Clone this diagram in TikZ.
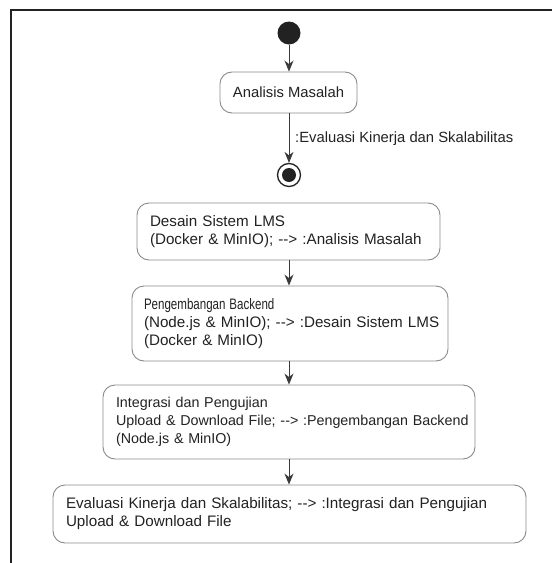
\documentclass[tikz,border=0pt]{standalone}
\usepackage{fontspec}
\setmainfont{Liberation Sans}
\usetikzlibrary{arrows.meta}
\definecolor{boxline}{HTML}{8A8A8A}
\definecolor{ink}{HTML}{222222}
\definecolor{arrowc}{HTML}{3A3A3A}
\newcommand{\arr}{-{}-{}>}
\tikzset{
  actbox/.style={draw=boxline, line width=0.9pt, rounded corners=12pt, fill=white,
    inner xsep=13pt, inner ysep=0pt, font=\fontsize{15.2}{18}\selectfont, text=ink, align=left},
  flow/.style={draw=arrowc, line width=1pt, -{Stealth[length=11pt,width=9pt,inset=3.5pt]}},
  frameline/.style={draw=ink, line width=1.1pt},
  lbl/.style={font=\fontsize{14.8}{18}\selectfont, text=ink, inner sep=0pt}
}
\begin{document}
\begin{tikzpicture}[x=1pt,y=-1pt]
\useasboundingbox (0,0) rectangle (552,563);
\coordinate (fl) at (11,563);
\coordinate (fc) at (11,10);
\coordinate (fr) at (552,10);
\draw[frameline] (fl) -- (fc) -- (fr);

\node[circle, fill=ink, minimum size=23pt, inner sep=0pt] (s) at (289,33) {};

\node[actbox, font=\fontsize{14.8}{18}\selectfont, minimum width=137pt, minimum height=41pt, align=center] (a) at (288.5,92.5) {Analisis Masalah};

\node[circle, draw=ink, line width=1.3pt, fill=white, minimum size=23pt, inner sep=0pt] (e) at (289,175) {};
\node[circle, fill=ink, minimum size=14pt, inner sep=0pt] (ei) at (e) {};

\node[lbl, anchor=west] (l) at (295,139) {:Evaluasi Kinerja dan Skalabilitas};

\node[actbox, minimum height=57pt, text width=277pt] (d) at (288.5,231.5)
  {\mbox{Desain Sistem LMS}\\\mbox{(Docker \& MinIO); \arr{} :Analisis Masalah}};

\node[actbox, minimum height=75pt, text width=292pt, inner xsep=12pt] (p) at (290,323.5)
  {\scalebox{0.76}[1]{Pengembangan Backend}\\\mbox{(Node.js \& MinIO); \arr{} :Desain Sistem LMS}\\\mbox{(Docker \& MinIO)}};

\node[actbox, font=\fontsize{14.3}{18}\selectfont, minimum height=74pt, text width=346pt] (i) at (289,422)
  {\mbox{Integrasi dan Pengujian}\\\mbox{Upload \& Download File; \arr{} :Pengembangan Backend}\\\mbox{(Node.js \& MinIO)}};

\node[actbox, minimum height=58pt, text width=447pt] (v) at (289.5,514)
  {\mbox{Evaluasi Kinerja dan Skalabilitas; \arr{} :Integrasi dan Pengujian}\\\mbox{Upload \& Download File}};

\draw[flow] (s.south) -- (a.north -| s);
\draw[flow] (a.south -| s) -- (e.north);
\draw[flow] (d.south -| s) -- (p.north -| s);
\draw[flow] (p.south -| s) -- (i.north -| s);
\draw[flow] (i.south -| s) -- (v.north -| s);
\end{tikzpicture}
\end{document}
